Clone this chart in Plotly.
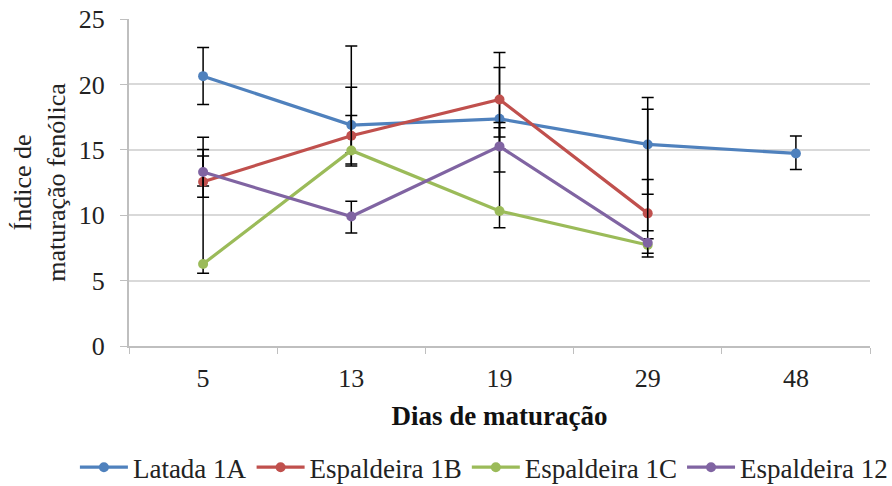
import plotly.graph_objects as go

days = ["5", "13", "19", "29", "48"]

latada_1a = [20.63, 16.89, 17.37, 15.41, 14.72]
latada_1a_plus = [2.2, 6.05, 3.92, 3.59, 1.33]
latada_1a_minus = [2.16, 2.98, 4.07, 3.81, 1.22]

esp_1b = [12.56, 16.07, 18.85, 10.14]
esp_1b_plus = [1.96, 3.72, 3.58, 7.96]
esp_1b_minus = [0.33, 2.31, 2.88, 1.33]

esp_1c = [6.27, 14.95, 10.32, 7.72]
esp_1c_plus = [9.68, 2.68, 6.36, 5.0]
esp_1c_minus = [0.71, 0.2, 1.27, 0.91]

esp_12 = [13.3, 9.9, 15.26, 7.9]
esp_12_plus = [1.73, 1.16, 1.83, 0.3]
esp_12_minus = [1.93, 1.26, 0.2, 0.81]

series = [
    ("Latada 1A", latada_1a, latada_1a_plus, latada_1a_minus, "#4F81BD"),
    ("Espaldeira 1B", esp_1b, esp_1b_plus, esp_1b_minus, "#C0504D"),
    ("Espaldeira 1C", esp_1c, esp_1c_plus, esp_1c_minus, "#9BBB59"),
    ("Espaldeira 12", esp_12, esp_12_plus, esp_12_minus, "#8064A2"),
]

FONT = "Liberation Serif"

fig = go.Figure()
for name, vals, plus, minus, color in series:
    fig.add_trace(go.Scatter(
        x=days[:len(vals)], y=vals, name=name, mode="lines+markers",
        line=dict(color=color, width=3.2),
        marker=dict(color=color, size=10),
        error_y=dict(type="data", symmetric=False, array=plus, arrayminus=minus,
                     color="black", thickness=1.5, width=6),
    ))

fig.update_layout(
    width=892, height=486,
    margin=dict(l=129, r=22, t=19, b=140, autoexpand=False),
    paper_bgcolor="white", plot_bgcolor="white",
    font=dict(family=FONT, size=26, color="#222"),
    showlegend=True,
    legend=dict(orientation="h", x=-0.073, xanchor="left", y=-0.372, yanchor="middle",
                font=dict(family=FONT, size=27, color="#222"),
                itemwidth=48, tracegroupgap=0, traceorder="normal"),
    xaxis=dict(
        type="category", range=[-0.5, 4.5],
        showline=True, linecolor="#BFBFBF", linewidth=2,
        ticks="outside", tickson="boundaries", ticklen=6, tickcolor="#BFBFBF",
        showgrid=False, ticklabelstandoff=8,
        tickfont=dict(family=FONT, size=26, color="#222"),
        title=dict(text="<b>Dias de maturação</b>", font=dict(family=FONT, size=27, color="#111"), standoff=14),
    ),
    yaxis=dict(
        range=[0, 25], dtick=5,
        showline=True, linecolor="#BFBFBF", linewidth=2,
        ticks="outside", ticklen=7, tickcolor="#BFBFBF",
        showgrid=True, gridcolor="#D9D9D9", gridwidth=1.5,
        zeroline=False, ticklabelstandoff=10,
        tickfont=dict(family=FONT, size=26, color="#222"),
        title=dict(text="Índice de<br>maturação fenólica", font=dict(family=FONT, size=26, color="#222"), standoff=6),
    ),
)

fig.write_html("out.html")
